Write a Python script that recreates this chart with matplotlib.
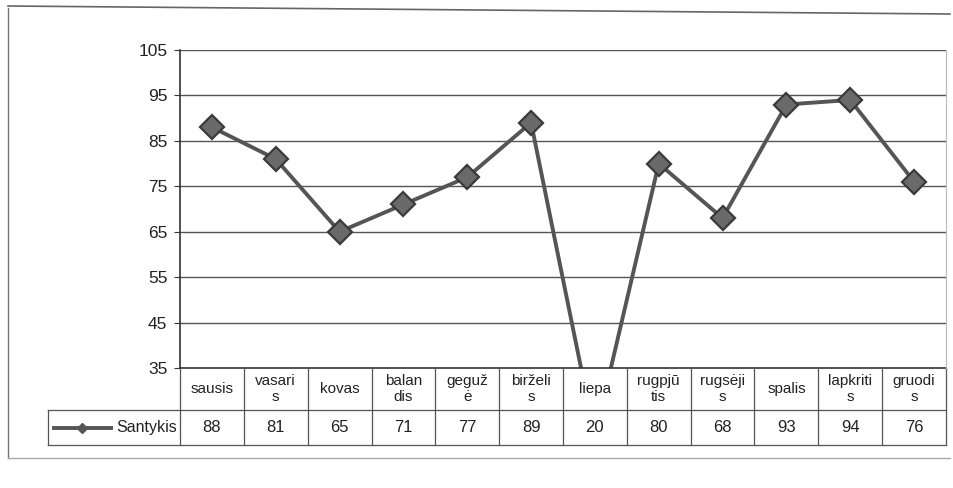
import matplotlib.pyplot as plt
import matplotlib.transforms as mtransforms
from matplotlib.lines import Line2D

months = ["sausis", "vasari\ns", "kovas", "balan\ndis", "geguž\nė", "birželi\ns",
          "liepa", "rugpjū\ntis", "rugsėji\ns", "spalis", "lapkriti\ns", "gruodi\ns"]
santykis = [88, 81, 65, 71, 77, 89, 20, 80, 68, 93, 94, 76]
series_name = "Santykis"
yticks = [35, 45, 55, 65, 75, 85, 95, 105]

plt.rcParams['font.family'] = ['Liberation Sans', 'DejaVu Sans']

fig = plt.figure(figsize=(9.54, 4.88), dpi=100)
ax = fig.add_axes([180 / 954, 1 - 368 / 488, 766 / 954, 318 / 488])

line_col = '#555555'
x = list(range(len(months)))
ax.plot(x, santykis, color=line_col, lw=2.8, marker='D', markersize=12,
        markerfacecolor='#6a6a6a', markeredgecolor='#3a3a3a', markeredgewidth=1.6)

ax.set_xlim(-0.5, len(months) - 0.5)
ax.set_ylim(35, 105)
ax.set_yticks(yticks)
ax.tick_params(axis='y', labelsize=12.5, length=4, color='#333333', pad=5, labelcolor='#222222')
ax.tick_params(axis='x', bottom=False, labelbottom=False)
for y in yticks[1:]:
    ax.axhline(y, color='#555555', lw=1.0, zorder=0)
for s in ['top', 'bottom']:
    ax.spines[s].set_visible(False)
ax.spines['left'].set_color('#333333')
ax.spines['left'].set_linewidth(1.2)
ax.spines['right'].set_color('#bbbbbb')

# data table below the plot
tr = mtransforms.blended_transform_factory(ax.transData, ax.transAxes)
h_bot = -42 / 318
v_bot = -77 / 318
leg_left = (48 - 180) / 766
tcol = '#555555'
lx = -0.5 + leg_left * len(months)
ax.add_line(Line2D([-0.5, len(months) - 0.5], [0, 0], transform=tr, color='#333333', lw=1.2, clip_on=False))
ax.add_line(Line2D([lx, len(months) - 0.5], [h_bot, h_bot],
                   transform=tr, color=tcol, lw=0.9, clip_on=False))
ax.add_line(Line2D([lx, len(months) - 0.5], [v_bot, v_bot],
                   transform=tr, color=tcol, lw=0.9, clip_on=False))
for i in range(len(months) + 1):
    ax.add_line(Line2D([i - 0.5, i - 0.5], [0, v_bot], transform=tr, color=tcol, lw=0.9, clip_on=False))
ax.add_line(Line2D([lx, lx], [h_bot, v_bot], transform=tr, color=tcol, lw=0.9, clip_on=False))

for i, (m, v) in enumerate(zip(months, santykis)):
    ax.text(i, h_bot / 2, m, transform=tr, ha='center', va='center', fontsize=11,
            linespacing=1.1, color='#222222')
    ax.text(i, (h_bot + v_bot) / 2, str(v), transform=tr, ha='center', va='center',
            fontsize=12, color='#222222')

ym = (h_bot + v_bot) / 2
lx0 = lx + 0.1
ax.add_line(Line2D([lx0, lx0 + 0.88], [ym, ym], transform=tr, color=line_col, lw=2.8,
                   clip_on=False))
ax.add_line(Line2D([lx0 + 0.44], [ym], transform=tr, marker='D', markersize=5,
                   color='#555555', clip_on=False))
ax.text(-0.5 - 0.05, ym, series_name, transform=tr, ha='right', va='center', fontsize=11.5,
        color='#222222')

# outer chart frame
fig.add_artist(Line2D([8 / 954, 8 / 954], [1 - 8 / 488, 1 - 458 / 488], transform=fig.transFigure,
                      color='#777777', lw=1.0))
fig.add_artist(Line2D([8 / 954, 950 / 954], [1 - 458 / 488, 1 - 458 / 488], transform=fig.transFigure,
                      color='#aaaaaa', lw=1.0))
fig.add_artist(Line2D([8 / 954, 950 / 954], [1 - 6 / 488, 1 - 14 / 488], transform=fig.transFigure,
                      color='#666666', lw=1.2))

fig.savefig('out.png', dpi=100)
